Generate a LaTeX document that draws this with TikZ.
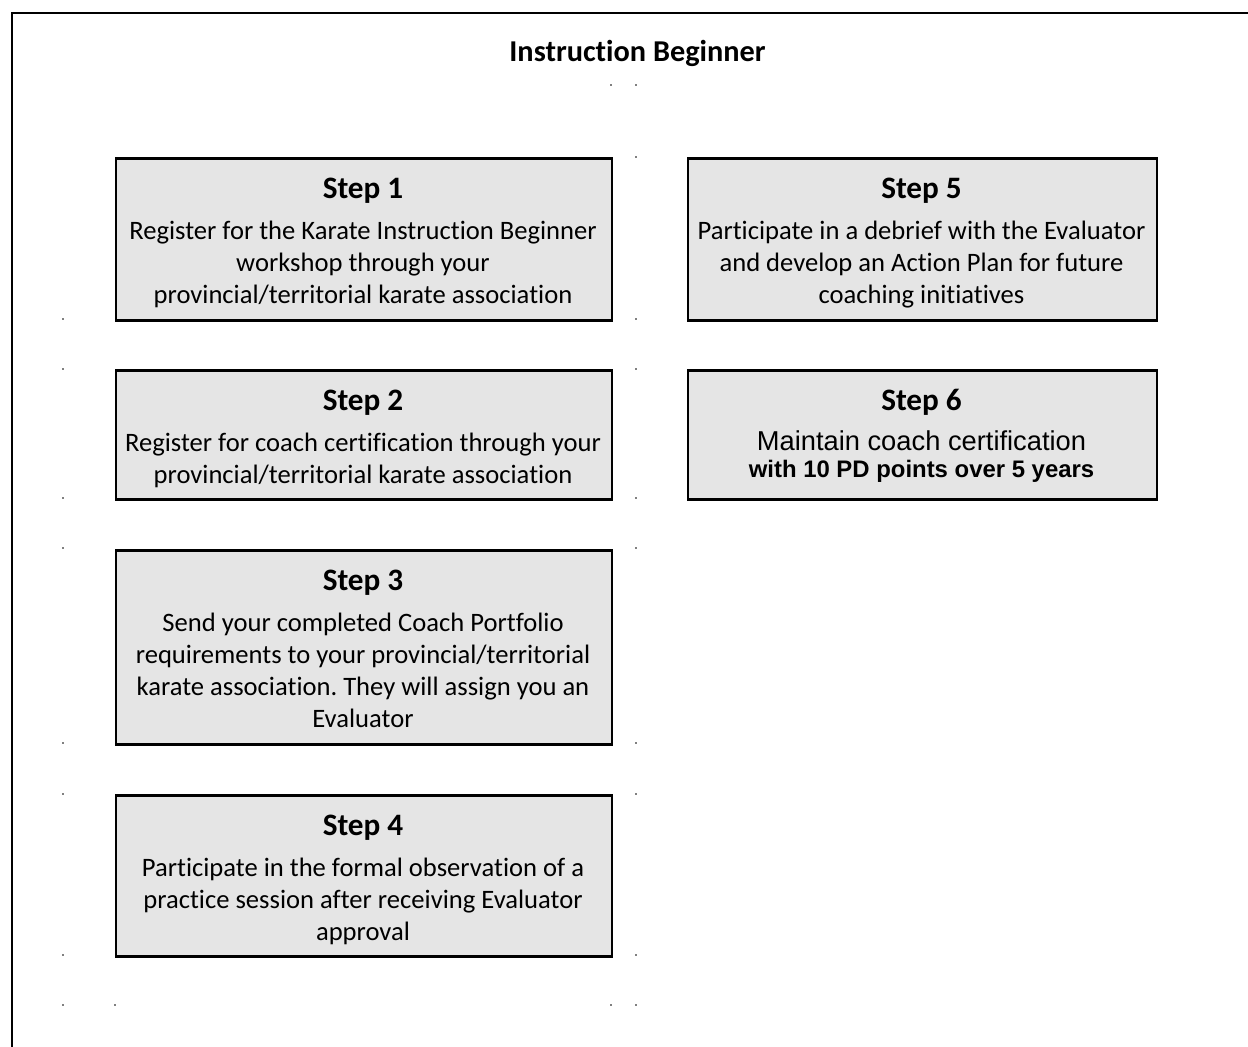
\documentclass[tikz,border=0pt]{standalone}
\usepackage{fontspec}
\setmainfont{Carlito}[Ligatures={NoCommon}]
\newfontfamily\arialfont{Liberation Sans}
\frenchspacing
\begin{document}
\begin{tikzpicture}[x=1pt,y=-1pt,
  stepbox/.style={draw=black, line width=2.8pt, fill=black!10, anchor=north west, inner sep=0pt},
  headtxt/.style={font=\fontsize{31.2}{37}\selectfont\bfseries, anchor=base, inner sep=0pt},
  bodytxt/.style={font=\fontsize{26.6}{32}\selectfont, anchor=base, align=center, inner sep=0pt},
  speck/.style={fill=black!50}]
\useasboundingbox (0,0) rectangle (1248,1047);
\draw[line width=2.6pt] (12,1047) -- (12,13) -- (1248,13);
% title
\node[font=\fontsize{30.3}{36}\selectfont\bfseries, anchor=base, inner sep=0pt] (title) at (637.5,61) {Instruction Beginner};
% boxes
\node[stepbox, minimum width=496pt, minimum height=162pt] (b1) at (114.5,157) {};
\node[stepbox, minimum width=496pt, minimum height=129pt] (b2) at (114.5,369) {};
\node[stepbox, minimum width=496pt, minimum height=194pt] (b3) at (114.5,549) {};
\node[stepbox, minimum width=496pt, minimum height=161pt] (b4) at (114.5,794) {};
\node[stepbox, minimum width=469pt, minimum height=162pt] (b5) at (686.5,157) {};
\node[stepbox, minimum width=469pt, minimum height=129pt] (b6) at (686.5,369) {};
% headings
\node[headtxt] (h1) at (363,198) {Step 1};
\node[headtxt] (h2) at (363,410) {Step 2};
\node[headtxt] (h3) at (363,590) {Step 3};
\node[headtxt] (h4) at (363,835) {Step 4};
\node[headtxt] (h5) at (921.5,198) {Step 5};
\node[headtxt] (h6) at (921.5,410) {Step 6};
% bodies (anchor = baseline of last line)
\node[bodytxt] (t1) at (363,303) {Register for the Karate Instruction Beginner\\workshop through your\\provincial/territorial karate association};
\node[bodytxt] (t2) at (363,483) {Register for coach certification through your\\provincial/territorial karate association};
\node[bodytxt] (t3) at (363,727) {Send your completed Coach Portfolio\\requirements to your provincial/territorial\\karate association. They will assign you an\\Evaluator};
\node[bodytxt] (t4) at (363,940) {Participate in the formal observation of a\\practice session after receiving Evaluator\\approval};
\node[bodytxt] (t5) at (921.5,303) {Participate in a debrief with the Evaluator\\and develop an Action Plan for future\\coaching initiatives};
\node[anchor=base, inner sep=0pt, font=\arialfont\fontsize{27.3}{32}\selectfont] (t6a) at (921.5,450) {Maintain coach certification};
\node[anchor=base, inner sep=0pt, font=\arialfont\fontsize{23.9}{28}\selectfont\bfseries] (t6b) at (921.5,477) {with 10 PD points over 5 years};
% specks
\foreach \y in {319,369,498,548,743,794,955,1005}{
  \fill[speck] (62.2,\y-0.8) rectangle (63.8,\y+0.8);
  \fill[speck] (635.2,\y-0.8) rectangle (636.8,\y+0.8);
}
\foreach \p in {(115,1005),(611,1005),(611,85),(636,85),(636,157)}{
  \fill[speck] \p ++(-0.8,-0.8) rectangle ++(1.6,1.6);
}
\end{tikzpicture}
\end{document}
